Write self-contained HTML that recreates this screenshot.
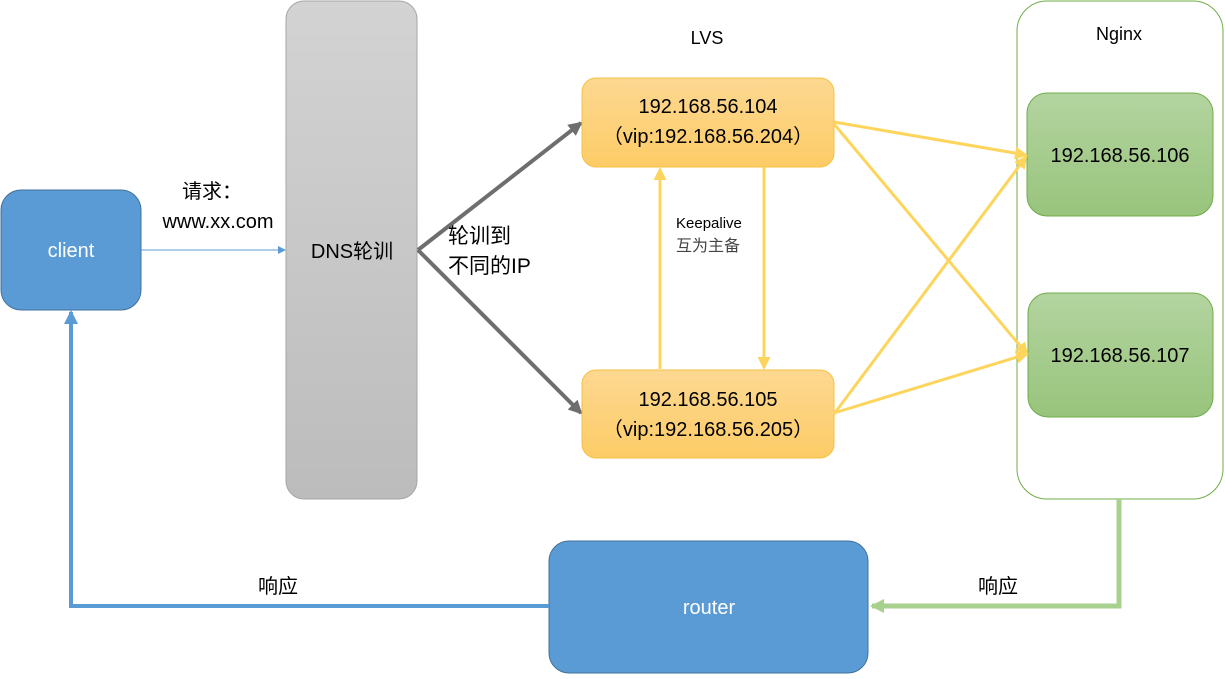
<!DOCTYPE html>
<html><head><meta charset="utf-8"><style>
body{margin:0;width:1225px;height:674px;background:#fff;overflow:hidden;font-family:"Liberation Sans","Noto Sans CJK SC",sans-serif;}
</style></head><body>
<svg width="1225" height="674" xmlns="http://www.w3.org/2000/svg" font-family="Liberation Sans, Noto Sans CJK SC, sans-serif">
<defs>
<linearGradient id="gy" x1="0" y1="0" x2="0" y2="1"><stop offset="0" stop-color="#d3d3d3"/><stop offset="1" stop-color="#bcbcbc"/></linearGradient>
<linearGradient id="yl" x1="0" y1="0" x2="0" y2="1"><stop offset="0" stop-color="#fdd892"/><stop offset="1" stop-color="#fdcc66"/></linearGradient>
<linearGradient id="gr" x1="0" y1="0" x2="0" y2="1"><stop offset="0" stop-color="#b3d4a0"/><stop offset="1" stop-color="#98c47c"/></linearGradient>
<marker id="ab" markerWidth="8" markerHeight="8" refX="7" refY="4" orient="auto" markerUnits="userSpaceOnUse"><path d="M0,0L8,4L0,8z" fill="#5b9bd5"/></marker>
<marker id="ag" markerWidth="14" markerHeight="14" refX="12" refY="7" orient="auto" markerUnits="userSpaceOnUse"><path d="M0,0L14,7L0,14z" fill="#6e6e6e"/></marker>
<marker id="ay" markerWidth="13" markerHeight="13" refX="11" refY="6.5" orient="auto" markerUnits="userSpaceOnUse"><path d="M0,0L13,6.5L0,13z" fill="#fdd55c"/></marker>
<marker id="ab2" markerWidth="14" markerHeight="14" refX="12" refY="7" orient="auto" markerUnits="userSpaceOnUse"><path d="M0,0L14,7L0,14z" fill="#5b9bd5"/></marker>
<marker id="agr" markerWidth="14" markerHeight="14" refX="12" refY="7" orient="auto" markerUnits="userSpaceOnUse"><path d="M0,0L14,7L0,14z" fill="#a9d18e"/></marker>
</defs>
<rect x="1017" y="1" width="206" height="498" rx="30" fill="#fff" stroke="#70ad47" stroke-width="1"/>
<rect x="286" y="1" width="131" height="498" rx="18" fill="url(#gy)" stroke="#a6a6a6"/>
<rect x="1" y="190" width="140" height="120" rx="20" fill="#5b9bd5" stroke="#41719c"/>
<text x="71" y="257" fill="#fff" font-size="20" text-anchor="middle">client</text>
<text x="352" y="258" font-size="20" text-anchor="middle">DNS轮训</text>
<line x1="141" y1="250" x2="285" y2="250" stroke="#5b9bd5" stroke-width="1" marker-end="url(#ab)"/>
<text x="212" y="198" font-size="20" text-anchor="middle">请求：</text>
<text x="218" y="228" font-size="20" text-anchor="middle">www.xx.com</text>
<line x1="418" y1="250" x2="581" y2="123" stroke="#6e6e6e" stroke-width="4" marker-end="url(#ag)"/>
<line x1="418" y1="250" x2="581" y2="413" stroke="#6e6e6e" stroke-width="4" marker-end="url(#ag)"/>
<text x="448" y="243" font-size="21">轮训到</text>
<text x="448" y="273" font-size="21">不同的IP</text>
<text x="707" y="44" font-size="18" text-anchor="middle">LVS</text>
<text x="1119" y="40" font-size="18" text-anchor="middle">Nginx</text>
<rect x="582" y="78" width="252" height="89" rx="14" fill="url(#yl)" stroke="#f5c242"/>
<rect x="582" y="370" width="252" height="88" rx="14" fill="url(#yl)" stroke="#f5c242"/>
<text x="708" y="113" font-size="20" text-anchor="middle">192.168.56.104</text>
<text x="708" y="143" font-size="20" text-anchor="middle">（vip:192.168.56.204）</text>
<text x="708" y="406" font-size="20" text-anchor="middle">192.168.56.105</text>
<text x="708" y="436" font-size="20" text-anchor="middle">（vip:192.168.56.205）</text>
<line x1="660" y1="369" x2="660" y2="169" stroke="#fdd55c" stroke-width="3" marker-end="url(#ay)"/>
<line x1="764" y1="167" x2="764" y2="368" stroke="#fdd55c" stroke-width="3" marker-end="url(#ay)"/>
<text x="676" y="228" font-size="15">Keepalive</text>
<text x="676" y="251" font-size="16" fill="#444">互为主备</text>
<rect x="1027" y="93" width="186" height="123" rx="20" fill="url(#gr)" stroke="#70ad47"/>
<rect x="1028" y="293" width="185" height="124" rx="20" fill="url(#gr)" stroke="#70ad47"/>
<text x="1120" y="162" font-size="20" text-anchor="middle">192.168.56.106</text>
<text x="1120" y="362" font-size="20" text-anchor="middle">192.168.56.107</text>
<g stroke="#fdd55c" stroke-width="3" marker-end="url(#ay)">
<line x1="834" y1="122" x2="1026" y2="155"/>
<line x1="834" y1="124" x2="1027" y2="354"/>
<line x1="834" y1="414" x2="1026" y2="157"/>
<line x1="834" y1="413" x2="1027" y2="354"/>
</g>
<rect x="549" y="541" width="319" height="132" rx="20" fill="#5b9bd5" stroke="#41719c"/>
<text x="709" y="614" fill="#fff" font-size="20" text-anchor="middle">router</text>
<polyline points="1119,499 1119,606 872,606" fill="none" stroke="#a9d18e" stroke-width="5" marker-end="url(#agr)"/>
<polyline points="549,606 71,606 71,312" fill="none" stroke="#5b9bd5" stroke-width="4" marker-end="url(#ab2)"/>
<text x="278" y="593" font-size="20" text-anchor="middle">响应</text>
<text x="998" y="593" font-size="20" text-anchor="middle">响应</text>
</svg>
</body></html>
